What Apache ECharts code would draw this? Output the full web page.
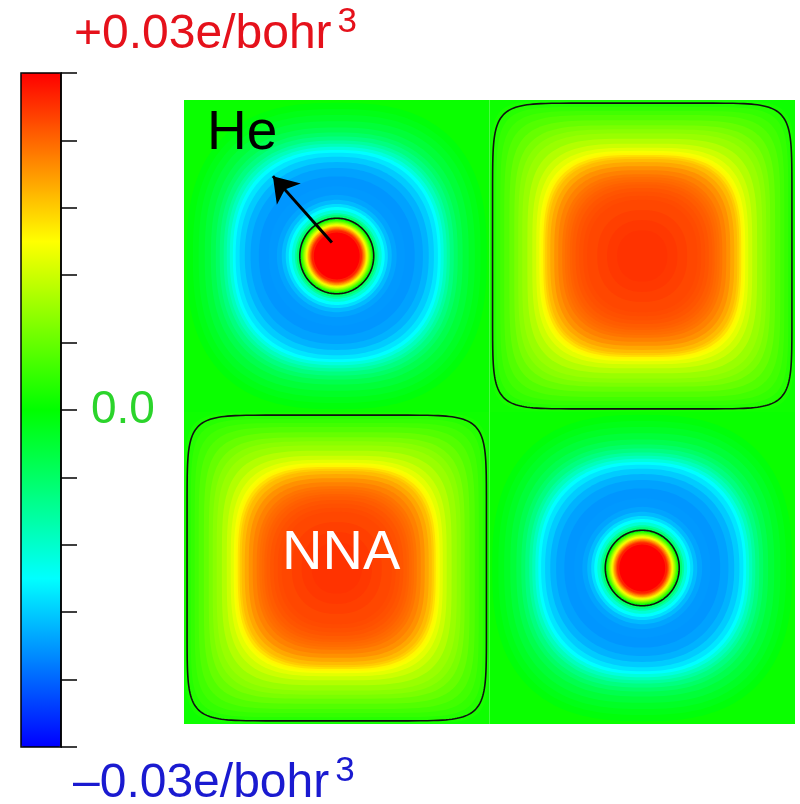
<!DOCTYPE html>
<html>
<head>
<meta charset="utf-8">
<script src="https://cdn.jsdelivr.net/npm/echarts@6/dist/echarts.min.js"></script>
<style>
html, body { margin: 0; padding: 0; background: #fff; }
#main { width: 800px; height: 804px; }
</style>
</head>
<body>
<div id="main"></div>
<script>
// cell centres in lattice units (the map is 2 x 2 cells)
var heSites = [[0.5, 1.5], [1.5, 0.5]];
var nnaSites = [[1.5, 1.5], [0.5, 0.5]];

// iso-levels, outside -> inside
// [half size, density (1e-3 e/bohr^3), squareness]
var heLevels = [
    [0.5, 0.6, 99], [0.491, -0.6, 2.6], [0.471, -1.3, 2.6], [0.452, -2.2, 2.6],
    [0.432, -3.3, 2.6], [0.412, -4.6, 2.55], [0.396, -6.0, 2.5], [0.383, -7.5, 2.5],
    [0.370, -9.3, 2.45], [0.360, -11, 2.45], [0.350, -13, 2.4], [0.340, -15, 2.4],
    [0.331, -16.5, 2.35], [0.318, -18, 2.3], [0.301, -19.5, 2.25], [0.282, -20.5, 2.2],
    [0.255, -21.2, 2.15], [0.223, -21, 2.1], [0.196, -20.3, 2], [0.180, -19, 2],
    [0.167, -17, 2], [0.157, -15, 2], [0.147, -12.5, 2], [0.137, -9.5, 2],
    [0.131, -6.5, 2], [0.124, -3, 2], [0.118, 1, 2], [0.1146, 4, 2],
    [0.111, 6.5, 2], [0.108, 9, 2], [0.105, 11.5, 2], [0.1015, 14, 2],
    [0.098, 16.5, 2], [0.095, 19, 2], [0.092, 21.5, 2], [0.088, 24, 2],
    [0.085, 26, 2], [0.082, 28, 2], [0.075, 30, 2]
];
var nnaLevels = [
    [0.5, 0.8, 99], [0.4975, 1.4, 10], [0.488, 2.2, 9], [0.478, 3.0, 8],
    [0.465, 3.8, 7], [0.452, 4.8, 6], [0.435, 6.0, 5.5], [0.419, 7.2, 5],
    [0.406, 8.1, 4.6], [0.393, 9.0, 4.3], [0.376, 10.5, 4], [0.360, 12.0, 3.7],
    [0.347, 13.4, 3.5], [0.337, 14.6, 3.3], [0.331, 15.5, 3.2], [0.324, 16.8, 3.2],
    [0.318, 18.0, 3.1], [0.311, 19.0, 3.1], [0.301, 20.2, 3.0], [0.288, 21.5, 3.0],
    [0.275, 22.4, 2.9], [0.262, 23.2, 2.8], [0.253, 23.6, 2.75], [0.245, 23.9, 2.7],
    [0.237, 24.3, 2.65], [0.229, 24.6, 2.6], [0.218, 25.0, 2.55], [0.206, 25.3, 2.5],
    [0.193, 25.6, 2.45], [0.180, 25.8, 2.4], [0.147, 26.3, 2.3], [0.115, 26.7, 2.2],
    [0.082, 27.0, 2.2]
];

// zero contours: [half size, squareness]
var heZero = [0.121, 2];
var nnaZero = [0.49, 9];

var arrow = [[0.484, 1.543], [0.291, 1.756]];

var barMin = -30, barMax = 30, barStep = 6;
var jet = ['#0000ff', '#00ffff', '#00ff00', '#ffff00', '#ff0000'];

var FONT = '"Liberation Sans", Arial, sans-serif';

function levelData(sites, levels) {
    var out = [];
    sites.forEach(function (s) {
        levels.forEach(function (l) {
            out.push([s[0], s[1], l[0], l[2], l[1]]);
        });
    });
    return out;
}

function contourData(sites, z) {
    return sites.map(function (s) { return [s[0], s[1], z[0], z[1]]; });
}

// superellipse |x|^p + |y|^p = 1 scaled to the half size
function shapeOf(api) {
    var c = api.coord([api.value(0), api.value(1)]);
    var s = api.size([api.value(2), api.value(2)]);
    var p = api.value(3);
    if (p >= 50) {
        return { type: 'rect', shape: { x: c[0] - s[0], y: c[1] - s[1], width: 2 * s[0], height: 2 * s[1] } };
    }
    var pts = [], n = 180;
    for (var i = 0; i < n; i++) {
        var t = i / n * 2 * Math.PI, co = Math.cos(t), si = Math.sin(t);
        pts.push([c[0] + s[0] * Math.sign(co) * Math.pow(Math.abs(co), 2 / p),
                  c[1] + s[1] * Math.sign(si) * Math.pow(Math.abs(si), 2 / p)]);
    }
    return { type: 'polygon', shape: { points: pts } };
}

function fillItem(params, api) {
    var el = shapeOf(api);
    el.z2 = params.dataIndex;
    el.style = { fill: api.visual('color') };
    return el;
}

function lineItem(params, api) {
    var el = shapeOf(api);
    el.style = { fill: null, stroke: '#111', lineWidth: 1.6 };
    return el;
}

var chart = echarts.init(document.getElementById('main'));

var option = {
    animation: false,
    grid: [
        { left: 184, top: 100, width: 611, height: 624 },
        { left: 21, top: 73, width: 40, height: 674, show: true, borderColor: '#000', borderWidth: 1.5, z: 10 }
    ],
    xAxis: [
        { type: 'value', min: 0, max: 2, show: false },
        { type: 'value', gridIndex: 1, min: 0, max: 1, show: false }
    ],
    yAxis: [
        { type: 'value', min: 0, max: 2, show: false },
        {
            type: 'value', gridIndex: 1, min: barMin, max: barMax, interval: barStep,
            position: 'right', z: 10,
            axisLine: { show: true, onZero: false, lineStyle: { color: '#000', width: 1.5 } },
            axisTick: { show: true, inside: false, length: 16, lineStyle: { color: '#000', width: 1.5 } },
            axisLabel: { show: false },
            splitLine: { show: false }
        }
    ],
    visualMap: {
        type: 'continuous',
        min: barMin,
        max: barMax,
        dimension: 4,
        seriesIndex: [0, 1],
        inRange: { color: jet },
        calculable: false,
        hoverLink: false,
        left: 21,
        top: 73,
        padding: 0,
        itemWidth: 40,
        itemHeight: 674
    },
    series: [
        {
            name: 'He', type: 'custom', silent: true, clip: true,
            renderItem: fillItem, data: levelData(heSites, heLevels)
        },
        {
            name: 'NNA', type: 'custom', silent: true, clip: true,
            renderItem: fillItem, data: levelData(nnaSites, nnaLevels)
        },
        {
            name: 'zero', type: 'custom', silent: true, clip: true, z: 3,
            renderItem: lineItem,
            data: contourData(heSites, heZero).concat(contourData(nnaSites, nnaZero))
        },
        {
            type: 'lines', coordinateSystem: 'cartesian2d', silent: true, z: 5,
            symbol: ['none', 'arrow'], symbolSize: 24,
            lineStyle: { color: '#000', width: 3, opacity: 1 },
            data: [{ coords: arrow }]
        }
    ],
    graphic: [
        {
            type: 'text', left: 74, top: 5,
            style: {
                text: '{a|+0.03e/bohr}{s|3}',
                rich: {
                    a: { fontSize: 48, fontFamily: FONT, fill: '#e5111b' },
                    s: { fontSize: 35, fontFamily: FONT, fill: '#e5111b', padding: [0, 0, 25, 6] }
                }
            }
        },
        {
            type: 'text', left: 91, top: 387,
            style: { text: '0.0', font: '46px ' + FONT, fill: '#2bd42b' }
        },
        {
            type: 'text', left: 73, top: 754,
            style: {
                text: '{a|\u20130.03e/bohr}{s|3}',
                rich: {
                    a: { fontSize: 48, fontFamily: FONT, fill: '#1a1ad0' },
                    s: { fontSize: 35, fontFamily: FONT, fill: '#1a1ad0', padding: [0, 0, 25, 6] }
                }
            }
        },
        {
            type: 'text', left: 207, top: 106, z: 20,
            style: { text: 'He', font: '55px ' + FONT, fill: '#000' }
        },
        {
            type: 'text', left: 282, top: 526, z: 20,
            style: { text: 'NNA', font: '56px ' + FONT, fill: '#fff' }
        }
    ]
};

chart.setOption(option);
</script>
</body>
</html>
